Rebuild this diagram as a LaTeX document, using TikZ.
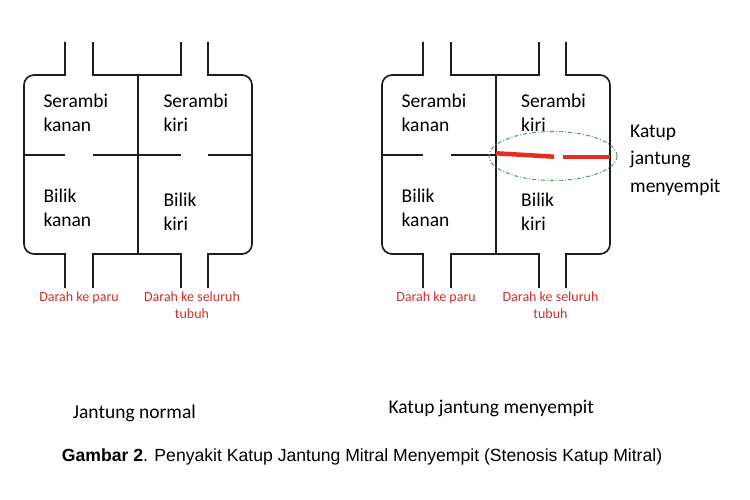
\documentclass[tikz,border=0pt]{standalone}
\usepackage{fontspec}
\setmainfont{Carlito}
\newfontfamily\capfont{Liberation Sans}
\definecolor{wallc}{RGB}{30,30,30}
\definecolor{redlbl}{RGB}{205,50,45}
\definecolor{valvered}{RGB}{228,45,30}
\definecolor{valvegreen}{RGB}{95,150,105}
\tikzset{
  wall/.style={draw=wallc, line width=1.7pt, line cap=butt, line join=miter},
  reg/.style={inner sep=0pt, align=left, font=\fontsize{19.5}{24}\selectfont},
  redtxt/.style={inner sep=0pt, align=center, text=redlbl, font=\fontsize{14}{17}\selectfont},
  subcap/.style={inner sep=0pt, font=\fontsize{19.5}{24}\selectfont},
  sidetxt/.style={inner sep=0pt, align=left, font=\fontsize{19.5}{27.5}\selectfont},
  capt/.style={inner sep=0pt, font=\capfont\fontsize{17.6}{20}\selectfont},
  valveline/.style={draw=valvered, line width=4.5pt},
  valvering/.style={draw=valvegreen, line width=1pt, dash pattern=on 4pt off 2pt on 1pt off 2pt},
  heart/.pic={
    \draw[wall] (65,42) -- (65,75) -- (34,75) arc[start angle=270,end angle=180,radius=10]
      -- (24,244) arc[start angle=180,end angle=90,radius=10] -- (65,254) -- (65,288);
    \draw[wall] (93,288) -- (93,254) -- (181,254) -- (181,288);
    \draw[wall] (208,288) -- (208,254) -- (242,254) arc[start angle=90,end angle=0,radius=10]
      -- (252,85) arc[start angle=0,end angle=-90,radius=10] -- (208,75) -- (208,42);
    \draw[wall] (181,42) -- (181,75) -- (93,75) -- (93,42);
    \draw[wall] (138,75) -- (138,254);
    \draw[wall] (24,155) -- (65,155);
    \draw[wall] (93,155) -- (138,155);
  }
}
\begin{document}
\begin{tikzpicture}[x=1pt,y=-1pt]
\useasboundingbox (0,0) rectangle (750,500);
\fill[white] (0,0) rectangle (750,500);

% ---------- left heart (normal) ----------
\pic at (0,0) {heart};
\draw[wall] (138,155) -- (181,155);
\draw[wall] (208,155) -- (252,155);
\node[reg, anchor=base west] (lsk) at (43.3,131.5) {Serambi\\kanan};
\node[reg, anchor=base west] (lsi) at (163.3,131.5) {Serambi\\kiri};
\node[reg, anchor=base west] (lbk) at (43.3,226.7) {Bilik\\kanan};
\node[reg, anchor=base west] (lbi) at (163.3,230.7) {Bilik\\kiri};
\node[redtxt, anchor=base] (lparu) at (79,301.7) {Darah ke paru};
\node[redtxt, anchor=base] (ltubuh) at (192,318.7) {Darah ke seluruh\\tubuh};
\node[subcap, anchor=base west] (lcap) at (72.7,418.3) {Jantung normal};

% ---------- right heart (stenosis) ----------
\pic at (358,0) {heart};
\node[reg, anchor=base west] (rsk) at (401.5,131.5) {Serambi\\kanan};
\node[reg, anchor=base west] (rsi) at (521,131.5) {Serambi\\kiri};
\node[reg, anchor=base west] (rbk) at (401.5,226.7) {Bilik\\kanan};
\node[reg, anchor=base west] (rbi) at (521,230.7) {Bilik\\kiri};
\node[redtxt, anchor=base] (rparu) at (436,301.7) {Darah ke paru};
\node[redtxt, anchor=base] (rtubuh) at (550.5,318.7) {Darah ke seluruh\\tubuh};
\node[subcap, anchor=base west] (rcap) at (388.3,413.3) {Katup jantung menyempit};

% narrowed mitral valve
\coordinate (va) at (496,153.3);
\coordinate (vb) at (554,156.7);
\coordinate (vc) at (563,157);
\coordinate (vd) at (610,157);
\draw[valveline] (va) -- (vb);
\draw[valveline] (vc) -- (vd);
\draw[valvering] (553,156) ellipse [x radius=64, y radius=24.5];
\node[sidetxt, anchor=base west] (katup) at (630,192.3) {Katup\\jantung\\menyempit};

% ---------- caption ----------
\node[capt, anchor=base west] (caption) at (61.7,461.7) {\textbf{Gambar 2}. Penyakit Katup Jantung Mitral Menyempit (Stenosis Katup Mitral)};
\end{tikzpicture}
\end{document}
